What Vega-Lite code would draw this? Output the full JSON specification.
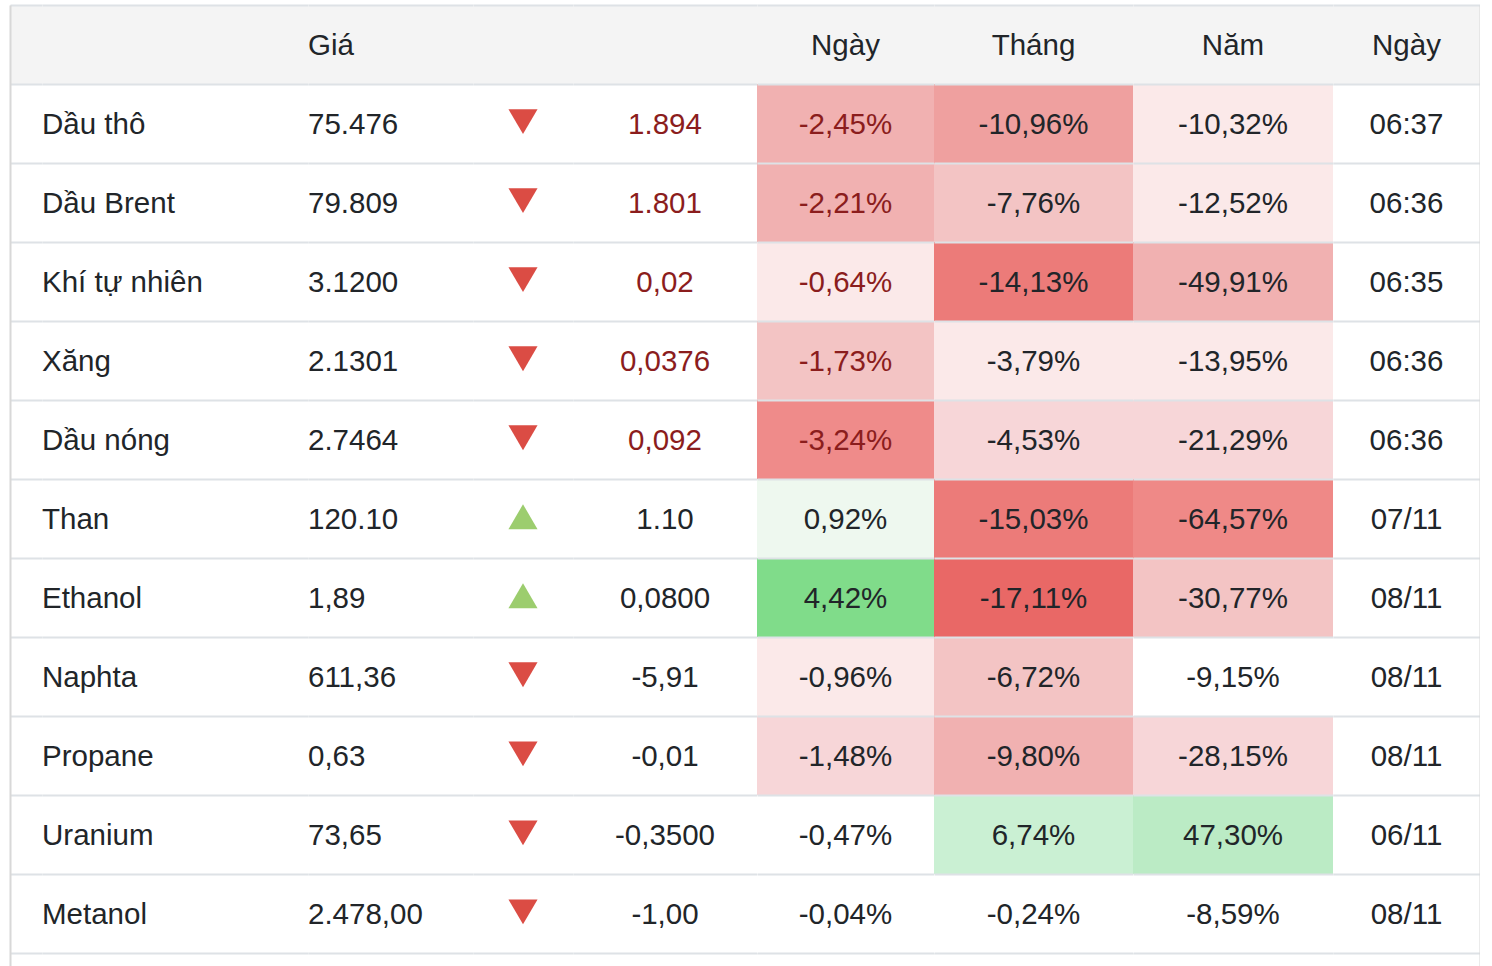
{
  "$schema": "https://vega.github.io/schema/vega-lite/v6.json",
  "background": "#ffffff",
  "padding": {"left": 10, "top": 5, "right": 0, "bottom": 0},
  "spacing": 0,
  "bounds": "flush",
  "config": {
    "view": {"stroke": null},
    "font": "Liberation Sans",
    "text": {"font": "Liberation Sans", "fontSize": 29.5, "color": "#212529", "baseline": "middle", "dy": 1.5},
    "locale": {"number": {"decimal": ",", "thousands": ".", "grouping": [3], "currency": ["", ""], "minus": "-"}}
  },
  "datasets": {
    "rows": [
      {"name": "Dầu thô", "price": "75.476", "dir": "down", "chg": "1.894", "d": -0.0245, "m": -0.1096, "y": -0.1032, "time": "06:37", "status": "live"},
      {"name": "Dầu Brent", "price": "79.809", "dir": "down", "chg": "1.801", "d": -0.0221, "m": -0.0776, "y": -0.1252, "time": "06:36", "status": "live"},
      {"name": "Khí tự nhiên", "price": "3.1200", "dir": "down", "chg": "0,02", "d": -0.0064, "m": -0.1413, "y": -0.4991, "time": "06:35", "status": "live"},
      {"name": "Xăng", "price": "2.1301", "dir": "down", "chg": "0,0376", "d": -0.0173, "m": -0.0379, "y": -0.1395, "time": "06:36", "status": "live"},
      {"name": "Dầu nóng", "price": "2.7464", "dir": "down", "chg": "0,092", "d": -0.0324, "m": -0.0453, "y": -0.2129, "time": "06:36", "status": "live"},
      {"name": "Than", "price": "120.10", "dir": "up", "chg": "1.10", "d": 0.0092, "m": -0.1503, "y": -0.6457, "time": "07/11", "status": "closed"},
      {"name": "Ethanol", "price": "1,89", "dir": "up", "chg": "0,0800", "d": 0.0442, "m": -0.1711, "y": -0.3077, "time": "08/11", "status": "closed"},
      {"name": "Naphta", "price": "611,36", "dir": "down", "chg": "-5,91", "d": -0.0096, "m": -0.0672, "y": -0.0915, "time": "08/11", "status": "closed"},
      {"name": "Propane", "price": "0,63", "dir": "down", "chg": "-0,01", "d": -0.0148, "m": -0.098, "y": -0.2815, "time": "08/11", "status": "closed"},
      {"name": "Uranium", "price": "73,65", "dir": "down", "chg": "-0,3500", "d": -0.0047, "m": 0.0674, "y": 0.473, "time": "06/11", "status": "closed"},
      {"name": "Metanol", "price": "2.478,00", "dir": "down", "chg": "-1,00", "d": -0.0004, "m": -0.0024, "y": -0.0859, "time": "08/11", "status": "closed"}
    ],
    "header": [
      {"col": "pad", "label": ""},
      {"col": "name", "label": ""},
      {"col": "price", "label": "Giá"},
      {"col": "arrow", "label": ""},
      {"col": "chg", "label": ""},
      {"col": "d", "label": "Ngày"},
      {"col": "m", "label": "Tháng"},
      {"col": "y", "label": "Năm"},
      {"col": "t", "label": "Ngày"}
    ]
  },
  "resolve": {"scale": {"x": "independent", "y": "independent", "color": "independent", "fill": "independent", "shape": "independent"}},
  "hconcat": [
    {
      "width": 32, "height": 961,
      "layer": [
        {"data": {"name": "header"}, "transform": [{"filter": "datum.col == 'pad'"}],
         "mark": {"type": "rect", "fill": "#f4f4f4"},
         "encoding": {"y": {"datum": "hdr", "type": "nominal", "scale": {"domain": ["hdr","Dầu thô","Dầu Brent","Khí tự nhiên","Xăng","Dầu nóng","Than","Ethanol","Naphta","Propane","Uranium","Metanol"], "paddingInner": 0, "paddingOuter": 0.08, "align": 0}, "axis": {"orient": "left", "grid": true, "tickBand": "extent", "domain": true, "domainColor": "#d8d8d8", "domainWidth": 2, "ticks": false, "labels": false, "title": null, "gridColor": "#dee2e6", "gridWidth": 2, "zindex": 1}}}}
      ]
    },
    {
      "width": 266, "height": 961,
      "layer": [
        {"data": {"name": "header"}, "transform": [{"filter": "datum.col == 'name'"}],
         "mark": {"type": "rect", "fill": "#f4f4f4"},
         "encoding": {"y": {"datum": "hdr", "type": "nominal", "scale": {"domain": ["hdr","Dầu thô","Dầu Brent","Khí tự nhiên","Xăng","Dầu nóng","Than","Ethanol","Naphta","Propane","Uranium","Metanol"], "paddingInner": 0, "paddingOuter": 0.08, "align": 0}, "axis": {"grid": true, "tickBand": "extent", "domain": false, "ticks": false, "labels": false, "title": null, "gridColor": "#dee2e6", "gridWidth": 2, "zindex": 1}}}},
        {"data": {"name": "rows"},
         "mark": {"type": "text", "align": "left"},
         "encoding": {
           "x": {"datum": 0, "type": "quantitative", "scale": {"domain": [0, 1]}, "axis": null},
           "y": {"field": "name", "type": "nominal", "scale": {"domain": ["hdr","Dầu thô","Dầu Brent","Khí tự nhiên","Xăng","Dầu nóng","Than","Ethanol","Naphta","Propane","Uranium","Metanol"], "paddingInner": 0, "paddingOuter": 0.08, "align": 0}, "axis": {"grid": true, "tickBand": "extent", "domain": false, "ticks": false, "labels": false, "title": null, "gridColor": "#dee2e6", "gridWidth": 2, "zindex": 1}},
           "text": {"field": "name", "type": "nominal"}}}
      ]
    },
    {
      "width": 165, "height": 961,
      "layer": [
        {"data": {"name": "header"}, "transform": [{"filter": "datum.col == 'price'"}],
         "mark": {"type": "rect", "fill": "#f4f4f4"},
         "encoding": {"y": {"datum": "hdr", "type": "nominal", "scale": {"domain": ["hdr","Dầu thô","Dầu Brent","Khí tự nhiên","Xăng","Dầu nóng","Than","Ethanol","Naphta","Propane","Uranium","Metanol"], "paddingInner": 0, "paddingOuter": 0.08, "align": 0}, "axis": {"grid": true, "tickBand": "extent", "domain": false, "ticks": false, "labels": false, "title": null, "gridColor": "#dee2e6", "gridWidth": 2, "zindex": 1}}}},
        {"data": {"name": "header"}, "transform": [{"filter": "datum.col == 'price'"}],
         "mark": {"type": "text", "align": "left"},
         "encoding": {
           "x": {"datum": 0, "type": "quantitative", "scale": {"domain": [0, 1]}, "axis": null},
           "y": {"datum": "hdr", "type": "nominal", "scale": {"domain": ["hdr","Dầu thô","Dầu Brent","Khí tự nhiên","Xăng","Dầu nóng","Than","Ethanol","Naphta","Propane","Uranium","Metanol"], "paddingInner": 0, "paddingOuter": 0.08, "align": 0}, "axis": {"grid": true, "tickBand": "extent", "domain": false, "ticks": false, "labels": false, "title": null, "gridColor": "#dee2e6", "gridWidth": 2, "zindex": 1}},
           "text": {"field": "label", "type": "nominal"}}},
        {"data": {"name": "rows"},
         "mark": {"type": "text", "align": "left"},
         "encoding": {
           "x": {"datum": 0, "type": "quantitative", "scale": {"domain": [0, 1]}, "axis": null},
           "y": {"field": "name", "type": "nominal", "scale": {"domain": ["hdr","Dầu thô","Dầu Brent","Khí tự nhiên","Xăng","Dầu nóng","Than","Ethanol","Naphta","Propane","Uranium","Metanol"], "paddingInner": 0, "paddingOuter": 0.08, "align": 0}, "axis": {"grid": true, "tickBand": "extent", "domain": false, "ticks": false, "labels": false, "title": null, "gridColor": "#dee2e6", "gridWidth": 2, "zindex": 1}},
           "text": {"field": "price", "type": "nominal"}}}
      ]
    },
    {
      "width": 100, "height": 961,
      "layer": [
        {"data": {"name": "header"}, "transform": [{"filter": "datum.col == 'arrow'"}],
         "mark": {"type": "rect", "fill": "#f4f4f4"},
         "encoding": {"y": {"datum": "hdr", "type": "nominal", "scale": {"domain": ["hdr","Dầu thô","Dầu Brent","Khí tự nhiên","Xăng","Dầu nóng","Than","Ethanol","Naphta","Propane","Uranium","Metanol"], "paddingInner": 0, "paddingOuter": 0.08, "align": 0}, "axis": {"grid": true, "tickBand": "extent", "domain": false, "ticks": false, "labels": false, "title": null, "gridColor": "#dee2e6", "gridWidth": 2, "zindex": 1}}}},
        {"data": {"name": "rows"},
         "mark": {"type": "point", "filled": true, "size": 900, "opacity": 1},
         "encoding": {
           "y": {"field": "name", "type": "nominal", "scale": {"domain": ["hdr","Dầu thô","Dầu Brent","Khí tự nhiên","Xăng","Dầu nóng","Than","Ethanol","Naphta","Propane","Uranium","Metanol"], "paddingInner": 0, "paddingOuter": 0.08, "align": 0}, "axis": {"grid": true, "tickBand": "extent", "domain": false, "ticks": false, "labels": false, "title": null, "gridColor": "#dee2e6", "gridWidth": 2, "zindex": 1}},
           "shape": {"field": "dir", "type": "nominal", "scale": {"domain": ["down", "up"], "range": ["M-0.97,-0.96L0.97,-0.96L0,0.7Z", "M-0.97,0.7L0.97,0.7L0,-0.96Z"]}, "legend": null},
           "color": {"field": "dir", "type": "nominal", "scale": {"domain": ["down", "up"], "range": ["#db4c44", "#9ccd6e"]}, "legend": null}}}
      ]
    },
    {
      "width": 184, "height": 961,
      "layer": [
        {"data": {"name": "header"}, "transform": [{"filter": "datum.col == 'chg'"}],
         "mark": {"type": "rect", "fill": "#f4f4f4"},
         "encoding": {"y": {"datum": "hdr", "type": "nominal", "scale": {"domain": ["hdr","Dầu thô","Dầu Brent","Khí tự nhiên","Xăng","Dầu nóng","Than","Ethanol","Naphta","Propane","Uranium","Metanol"], "paddingInner": 0, "paddingOuter": 0.08, "align": 0}, "axis": {"grid": true, "tickBand": "extent", "domain": false, "ticks": false, "labels": false, "title": null, "gridColor": "#dee2e6", "gridWidth": 2, "zindex": 1}}}},
        {"data": {"name": "rows"},
         "mark": {"type": "text", "align": "center"},
         "encoding": {
           "y": {"field": "name", "type": "nominal", "scale": {"domain": ["hdr","Dầu thô","Dầu Brent","Khí tự nhiên","Xăng","Dầu nóng","Than","Ethanol","Naphta","Propane","Uranium","Metanol"], "paddingInner": 0, "paddingOuter": 0.08, "align": 0}, "axis": {"grid": true, "tickBand": "extent", "domain": false, "ticks": false, "labels": false, "title": null, "gridColor": "#dee2e6", "gridWidth": 2, "zindex": 1}},
           "text": {"field": "chg", "type": "nominal"},
           "color": {"field": "status", "type": "nominal", "scale": {"domain": ["live", "closed"], "range": ["#8b1d1d", "#212529"]}, "legend": null}}}
      ]
    },
    {
      "width": 177, "height": 961,
      "layer": [
        {"data": {"name": "header"}, "transform": [{"filter": "datum.col == 'd'"}],
         "mark": {"type": "rect", "fill": "#f4f4f4"},
         "encoding": {"y": {"datum": "hdr", "type": "nominal", "scale": {"domain": ["hdr","Dầu thô","Dầu Brent","Khí tự nhiên","Xăng","Dầu nóng","Than","Ethanol","Naphta","Propane","Uranium","Metanol"], "paddingInner": 0, "paddingOuter": 0.08, "align": 0}, "axis": {"grid": true, "tickBand": "extent", "domain": false, "ticks": false, "labels": false, "title": null, "gridColor": "#dee2e6", "gridWidth": 2, "zindex": 1}}}},
        {"data": {"name": "header"}, "transform": [{"filter": "datum.col == 'd'"}],
         "mark": {"type": "text", "align": "center"},
         "encoding": {
           "y": {"datum": "hdr", "type": "nominal", "scale": {"domain": ["hdr","Dầu thô","Dầu Brent","Khí tự nhiên","Xăng","Dầu nóng","Than","Ethanol","Naphta","Propane","Uranium","Metanol"], "paddingInner": 0, "paddingOuter": 0.08, "align": 0}, "axis": {"grid": true, "tickBand": "extent", "domain": false, "ticks": false, "labels": false, "title": null, "gridColor": "#dee2e6", "gridWidth": 2, "zindex": 1}},
           "text": {"field": "label", "type": "nominal"}}},
        {"data": {"name": "rows"},
         "mark": {"type": "rect"},
         "encoding": {
           "y": {"field": "name", "type": "nominal", "scale": {"domain": ["hdr","Dầu thô","Dầu Brent","Khí tự nhiên","Xăng","Dầu nóng","Than","Ethanol","Naphta","Propane","Uranium","Metanol"], "paddingInner": 0, "paddingOuter": 0.08, "align": 0}, "axis": {"grid": true, "tickBand": "extent", "domain": false, "ticks": false, "labels": false, "title": null, "gridColor": "#dee2e6", "gridWidth": 2, "zindex": 1}},
           "fill": {"field": "d", "type": "quantitative", "scale": {"type": "threshold", "domain": [-0.03, -0.02, -0.015, -0.01, -0.005, 0.005, 0.02], "range": ["#ef8b8a", "#f1b1b1", "#f3c4c4", "#f7d6d8", "#fbe9e9", "#ffffff", "#eef8ef", "#80dc8a"]}, "legend": null}}},
        {"data": {"name": "rows"},
         "mark": {"type": "text", "align": "center"},
         "encoding": {
           "y": {"field": "name", "type": "nominal", "scale": {"domain": ["hdr","Dầu thô","Dầu Brent","Khí tự nhiên","Xăng","Dầu nóng","Than","Ethanol","Naphta","Propane","Uranium","Metanol"], "paddingInner": 0, "paddingOuter": 0.08, "align": 0}, "axis": {"grid": true, "tickBand": "extent", "domain": false, "ticks": false, "labels": false, "title": null, "gridColor": "#dee2e6", "gridWidth": 2, "zindex": 1}},
           "text": {"field": "d", "type": "quantitative", "format": ".2%"},
           "color": {"field": "status", "type": "nominal", "scale": {"domain": ["live", "closed"], "range": ["#8b1d1d", "#212529"]}, "legend": null}}}
      ]
    },
    {
      "width": 199, "height": 961,
      "layer": [
        {"data": {"name": "header"}, "transform": [{"filter": "datum.col == 'm'"}],
         "mark": {"type": "rect", "fill": "#f4f4f4"},
         "encoding": {"y": {"datum": "hdr", "type": "nominal", "scale": {"domain": ["hdr","Dầu thô","Dầu Brent","Khí tự nhiên","Xăng","Dầu nóng","Than","Ethanol","Naphta","Propane","Uranium","Metanol"], "paddingInner": 0, "paddingOuter": 0.08, "align": 0}, "axis": {"grid": true, "tickBand": "extent", "domain": false, "ticks": false, "labels": false, "title": null, "gridColor": "#dee2e6", "gridWidth": 2, "zindex": 1}}}},
        {"data": {"name": "header"}, "transform": [{"filter": "datum.col == 'm'"}],
         "mark": {"type": "text", "align": "center"},
         "encoding": {
           "y": {"datum": "hdr", "type": "nominal", "scale": {"domain": ["hdr","Dầu thô","Dầu Brent","Khí tự nhiên","Xăng","Dầu nóng","Than","Ethanol","Naphta","Propane","Uranium","Metanol"], "paddingInner": 0, "paddingOuter": 0.08, "align": 0}, "axis": {"grid": true, "tickBand": "extent", "domain": false, "ticks": false, "labels": false, "title": null, "gridColor": "#dee2e6", "gridWidth": 2, "zindex": 1}},
           "text": {"field": "label", "type": "nominal"}}},
        {"data": {"name": "rows"},
         "mark": {"type": "rect"},
         "encoding": {
           "y": {"field": "name", "type": "nominal", "scale": {"domain": ["hdr","Dầu thô","Dầu Brent","Khí tự nhiên","Xăng","Dầu nóng","Than","Ethanol","Naphta","Propane","Uranium","Metanol"], "paddingInner": 0, "paddingOuter": 0.08, "align": 0}, "axis": {"grid": true, "tickBand": "extent", "domain": false, "ticks": false, "labels": false, "title": null, "gridColor": "#dee2e6", "gridWidth": 2, "zindex": 1}},
           "fill": {"field": "m", "type": "quantitative", "scale": {"type": "threshold", "domain": [-0.16, -0.12, -0.105, -0.08, -0.05, -0.04, -0.01, 0.01], "range": ["#e96866", "#ec7b79", "#efa09f", "#f1b1b1", "#f3c4c4", "#f7d6d8", "#fbe9e9", "#ffffff", "#caf0d3"]}, "legend": null}}},
        {"data": {"name": "rows"},
         "mark": {"type": "text", "align": "center"},
         "encoding": {
           "y": {"field": "name", "type": "nominal", "scale": {"domain": ["hdr","Dầu thô","Dầu Brent","Khí tự nhiên","Xăng","Dầu nóng","Than","Ethanol","Naphta","Propane","Uranium","Metanol"], "paddingInner": 0, "paddingOuter": 0.08, "align": 0}, "axis": {"grid": true, "tickBand": "extent", "domain": false, "ticks": false, "labels": false, "title": null, "gridColor": "#dee2e6", "gridWidth": 2, "zindex": 1}},
           "text": {"field": "m", "type": "quantitative", "format": ".2%"}}}
      ]
    },
    {
      "width": 200, "height": 961,
      "layer": [
        {"data": {"name": "header"}, "transform": [{"filter": "datum.col == 'y'"}],
         "mark": {"type": "rect", "fill": "#f4f4f4"},
         "encoding": {"y": {"datum": "hdr", "type": "nominal", "scale": {"domain": ["hdr","Dầu thô","Dầu Brent","Khí tự nhiên","Xăng","Dầu nóng","Than","Ethanol","Naphta","Propane","Uranium","Metanol"], "paddingInner": 0, "paddingOuter": 0.08, "align": 0}, "axis": {"grid": true, "tickBand": "extent", "domain": false, "ticks": false, "labels": false, "title": null, "gridColor": "#dee2e6", "gridWidth": 2, "zindex": 1}}}},
        {"data": {"name": "header"}, "transform": [{"filter": "datum.col == 'y'"}],
         "mark": {"type": "text", "align": "center"},
         "encoding": {
           "y": {"datum": "hdr", "type": "nominal", "scale": {"domain": ["hdr","Dầu thô","Dầu Brent","Khí tự nhiên","Xăng","Dầu nóng","Than","Ethanol","Naphta","Propane","Uranium","Metanol"], "paddingInner": 0, "paddingOuter": 0.08, "align": 0}, "axis": {"grid": true, "tickBand": "extent", "domain": false, "ticks": false, "labels": false, "title": null, "gridColor": "#dee2e6", "gridWidth": 2, "zindex": 1}},
           "text": {"field": "label", "type": "nominal"}}},
        {"data": {"name": "rows"},
         "mark": {"type": "rect"},
         "encoding": {
           "y": {"field": "name", "type": "nominal", "scale": {"domain": ["hdr","Dầu thô","Dầu Brent","Khí tự nhiên","Xăng","Dầu nóng","Than","Ethanol","Naphta","Propane","Uranium","Metanol"], "paddingInner": 0, "paddingOuter": 0.08, "align": 0}, "axis": {"grid": true, "tickBand": "extent", "domain": false, "ticks": false, "labels": false, "title": null, "gridColor": "#dee2e6", "gridWidth": 2, "zindex": 1}},
           "fill": {"field": "y", "type": "quantitative", "scale": {"type": "threshold", "domain": [-0.6, -0.4, -0.3, -0.2, -0.1, 0.1], "range": ["#ef8987", "#f1b1b1", "#f3c4c4", "#f7d6d8", "#fbe9e9", "#ffffff", "#bbebc5"]}, "legend": null}}},
        {"data": {"name": "rows"},
         "mark": {"type": "text", "align": "center"},
         "encoding": {
           "y": {"field": "name", "type": "nominal", "scale": {"domain": ["hdr","Dầu thô","Dầu Brent","Khí tự nhiên","Xăng","Dầu nóng","Than","Ethanol","Naphta","Propane","Uranium","Metanol"], "paddingInner": 0, "paddingOuter": 0.08, "align": 0}, "axis": {"grid": true, "tickBand": "extent", "domain": false, "ticks": false, "labels": false, "title": null, "gridColor": "#dee2e6", "gridWidth": 2, "zindex": 1}},
           "text": {"field": "y", "type": "quantitative", "format": ".2%"}}}
      ]
    },
    {
      "width": 147, "height": 961,
      "layer": [
        {"data": {"name": "header"}, "transform": [{"filter": "datum.col == 't'"}],
         "mark": {"type": "rect", "fill": "#f4f4f4"},
         "encoding": {"y": {"datum": "hdr", "type": "nominal", "scale": {"domain": ["hdr","Dầu thô","Dầu Brent","Khí tự nhiên","Xăng","Dầu nóng","Than","Ethanol","Naphta","Propane","Uranium","Metanol"], "paddingInner": 0, "paddingOuter": 0.08, "align": 0}, "axis": {"orient": "right", "grid": true, "tickBand": "extent", "domain": true, "domainColor": "#d8d8d8", "domainWidth": 2, "ticks": false, "labels": false, "title": null, "gridColor": "#dee2e6", "gridWidth": 2, "zindex": 1}}}},
        {"data": {"name": "header"}, "transform": [{"filter": "datum.col == 't'"}],
         "mark": {"type": "text", "align": "center"},
         "encoding": {
           "y": {"datum": "hdr", "type": "nominal", "scale": {"domain": ["hdr","Dầu thô","Dầu Brent","Khí tự nhiên","Xăng","Dầu nóng","Than","Ethanol","Naphta","Propane","Uranium","Metanol"], "paddingInner": 0, "paddingOuter": 0.08, "align": 0}, "axis": {"orient": "right", "grid": true, "tickBand": "extent", "domain": true, "domainColor": "#d8d8d8", "domainWidth": 2, "ticks": false, "labels": false, "title": null, "gridColor": "#dee2e6", "gridWidth": 2, "zindex": 1}},
           "text": {"field": "label", "type": "nominal"}}},
        {"data": {"name": "rows"},
         "mark": {"type": "text", "align": "center"},
         "encoding": {
           "y": {"field": "name", "type": "nominal", "scale": {"domain": ["hdr","Dầu thô","Dầu Brent","Khí tự nhiên","Xăng","Dầu nóng","Than","Ethanol","Naphta","Propane","Uranium","Metanol"], "paddingInner": 0, "paddingOuter": 0.08, "align": 0}, "axis": {"orient": "right", "grid": true, "tickBand": "extent", "domain": true, "domainColor": "#d8d8d8", "domainWidth": 2, "ticks": false, "labels": false, "title": null, "gridColor": "#dee2e6", "gridWidth": 2, "zindex": 1}},
           "text": {"field": "time", "type": "nominal"}}}
      ]
    }
  ]
}
